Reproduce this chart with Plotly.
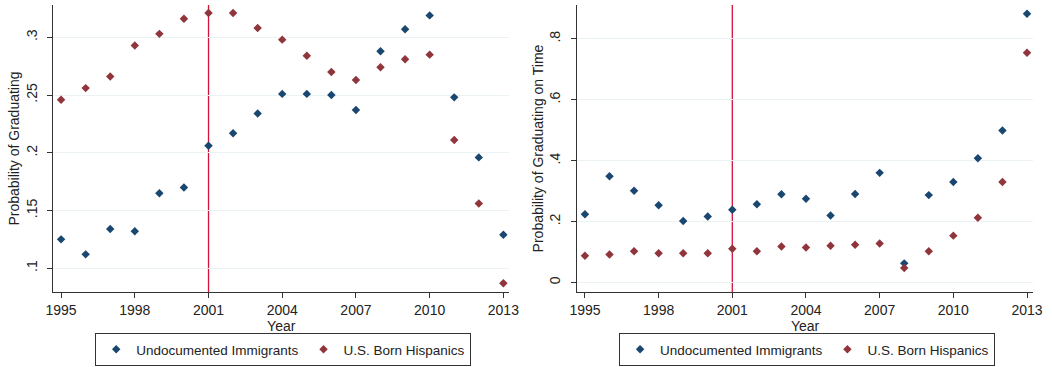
import plotly.graph_objects as go

years = list(range(1995, 2014))

# Probability of graduating
grad_undocumented = [0.125, 0.112, 0.134, 0.132, 0.165, 0.170, 0.206, 0.217, 0.234, 0.251,
                     0.251, 0.250, 0.237, 0.288, 0.307, 0.319, 0.248, 0.196, 0.129]
grad_us_born = [0.246, 0.256, 0.266, 0.293, 0.303, 0.316, 0.321, 0.321, 0.308, 0.298,
                0.284, 0.270, 0.263, 0.274, 0.281, 0.285, 0.211, 0.156, 0.087]

# Probability of graduating on time
ontime_undocumented = [0.224, 0.349, 0.301, 0.254, 0.202, 0.217, 0.239, 0.257, 0.290, 0.275,
                       0.220, 0.291, 0.360, 0.063, 0.287, 0.330, 0.408, 0.499, 0.882]
ontime_us_born = [0.088, 0.092, 0.103, 0.096, 0.096, 0.096, 0.111, 0.103, 0.118, 0.115,
                  0.121, 0.124, 0.128, 0.048, 0.103, 0.154, 0.213, 0.330, 0.754]

series_names = ["Undocumented Immigrants", "U.S. Born Hispanics"]
x_ticks = [1995, 1998, 2001, 2004, 2007, 2010, 2013]
left_yticks = [0.1, 0.15, 0.2, 0.25, 0.3]
left_yticklabels = [".1", ".15", ".2", ".25", ".3"]
right_yticks = [0, 0.2, 0.4, 0.6, 0.8]
right_yticklabels = ["0", ".2", ".4", ".6", ".8"]
policy_year = 2001

BLUE = "#1a476f"
RED = "#90353b"
VLINE = "#d4123c"
GRID = "#eaf2f3"
AXIS = "#333333"
TEXT = "#222222"
FONT = "Liberation Sans, Arial, sans-serif"

W, H = 1052, 367


def px_x(p):
    return p / W


def px_y(p):
    return 1 - p / H


fig = go.Figure()

panels = [
    ("x", "y", "legend", grad_undocumented, grad_us_born),
    ("x2", "y2", "legend2", ontime_undocumented, ontime_us_born),
]
for xa, ya, lg, blue_vals, red_vals in panels:
    for name, vals, color in [(series_names[0], blue_vals, BLUE), (series_names[1], red_vals, RED)]:
        fig.add_trace(go.Scatter(
            x=years, y=vals, mode="markers", name=name, legend=lg,
            xaxis=xa, yaxis=ya,
            marker=dict(symbol="diamond", size=6.5, color=color, line=dict(width=0)),
        ))
    fig.add_shape(type="line", xref=xa, yref=f"{ya} domain",
                  x0=policy_year, x1=policy_year, y0=0, y1=1,
                  line=dict(color=VLINE, width=1.3), layer="below")

common_x = dict(
    tickvals=x_ticks, ticktext=[str(v) for v in x_ticks],
    ticks="outside", ticklen=5, tickcolor=AXIS, tickwidth=1,
    showline=True, linecolor=AXIS, linewidth=1.2, showgrid=False, zeroline=False,
    tickfont=dict(family=FONT, size=14, color=TEXT),
    title=dict(text="Year", font=dict(family=FONT, size=14, color=TEXT), standoff=0),
)
common_y = dict(
    ticks="outside", ticklen=5, tickcolor=AXIS, tickwidth=1, tickangle=-90,
    ticklabelstandoff=5,
    showline=True, linecolor=AXIS, linewidth=1.2, showgrid=True, gridcolor=GRID,
    gridwidth=1.3, zeroline=False,
    tickfont=dict(family=FONT, size=14, color=TEXT),
)

y_dom = [px_y(292), px_y(5)]

legend_common = dict(
    orientation="h", yanchor="top", xanchor="center",
    bordercolor="#333333", borderwidth=1, bgcolor="white",
    font=dict(family=FONT, size=13.5, color=TEXT),
    itemsizing="trace", itemwidth=30, tracegroupgap=0,
)

fig.update_layout(
    width=W, height=H,
    margin=dict(l=0, r=0, t=0, b=0),
    paper_bgcolor="white", plot_bgcolor="white",
    font=dict(family=FONT, size=14, color=TEXT),
    xaxis=dict(common_x, domain=[px_x(46), px_x(510)], range=[1994.68, 2013.24], anchor="y"),
    yaxis=dict(common_y, domain=y_dom, range=[0.0794, 0.328], anchor="x",
               tickvals=left_yticks, ticktext=left_yticklabels,
               title=dict(text="Probability of Graduating",
                          font=dict(family=FONT, size=14, color=TEXT), standoff=0)),
    xaxis2=dict(common_x, domain=[px_x(579), px_x(1043)], range=[1994.68, 2013.25], anchor="y2"),
    yaxis2=dict(common_y, domain=y_dom, range=[-0.031, 0.911], anchor="x2",
                tickvals=right_yticks, ticktext=right_yticklabels,
                title=dict(text="Probability of Graduating on Time",
                           font=dict(family=FONT, size=14, color=TEXT), standoff=0)),
    legend=dict(legend_common, x=px_x(280), y=px_y(333)),
    legend2=dict(legend_common, x=px_x(813), y=px_y(333)),
    showlegend=True,
)

fig.write_html("out.html")
